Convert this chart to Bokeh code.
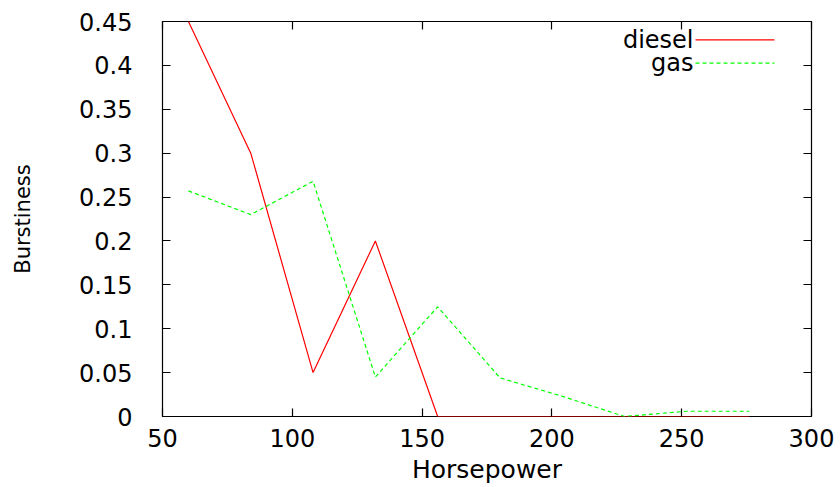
from bokeh.plotting import figure
from bokeh.models import (Range1d, LinearAxis, FixedTicker, Label, Arrow, Title,
                          CustomLabelingPolicy)
from bokeh.embed import file_html
from bokeh.resources import INLINE

# Data
horsepower = [60, 84, 108, 132, 156, 180, 204, 228, 252, 276]
diesel = [0.45, 0.30, 0.05, 0.20, 0.0, 0.0, 0.0, 0.0, 0.0, 0.0]
gas = [0.257, 0.23, 0.268, 0.045, 0.125, 0.044, 0.023, 0.0, 0.006, 0.006]
series_names = ["diesel", "gas"]

x_ticks = [50, 100, 150, 200, 250, 300]
x_tick_labels = ["50", "100", "150", "200", "250", "300"]
y_ticks = [0, 0.05, 0.1, 0.15, 0.2, 0.25, 0.3, 0.35, 0.4, 0.45]
y_tick_labels = ["0", "0.05", "0.1", "0.15", "0.2", "0.25", "0.3", "0.35", "0.4", "0.45"]

FONT = "DejaVu Sans"
RED = "#ff0000"
GREEN = "#00ff00"
DASH = "4 3"

p = figure(width=840, height=487, x_range=Range1d(50, 300), y_range=Range1d(0, 0.45),
           output_backend="svg", toolbar_location=None,
           min_border_left=162, min_border_right=29, min_border_top=21, min_border_bottom=71,
           y_axis_label="Burstiness")
p.grid.visible = False
p.outline_line_color = "black"
p.outline_line_width = 1.2
p.background_fill_color = "white"
p.border_fill_color = "white"

p.line(horsepower, diesel, line_color=RED, line_width=1.2)
p.line(horsepower, gas, line_color=GREEN, line_width=1.2, line_dash=DASH)

no_labels = CustomLabelingPolicy(code="""
for (let i = 0; i < indices.size; i++) { indices.unset(i) }
return indices
""")

def style_axis(ax, ticks, labels, show_labels=True):
    ax.ticker = FixedTicker(ticks=ticks)
    ax.major_label_overrides = {t: l for t, l in zip(ticks, labels)}
    ax.major_tick_in = 8
    ax.major_tick_out = 0
    ax.minor_tick_in = 0
    ax.minor_tick_out = 0
    ax.axis_line_color = None
    ax.major_tick_line_color = "black"
    ax.major_tick_line_width = 1.2
    ax.major_label_text_font = FONT
    ax.major_label_text_color = "black"
    if show_labels:
        ax.major_label_text_font_size = "24px"
    else:
        ax.major_label_text_font_size = "1px"
        ax.major_label_policy = no_labels
        ax.major_label_standoff = 0

xa = p.xaxis[0]
ya = p.yaxis[0]
style_axis(xa, x_ticks, x_tick_labels)
style_axis(ya, y_ticks, y_tick_labels)
xa.major_label_standoff = 12
xa.major_label_text_line_height = 0.75
ya.major_label_standoff = 30
ya.axis_label_text_font = FONT
ya.axis_label_text_font_style = "normal"
ya.axis_label_text_font_size = "21px"
ya.axis_label_text_color = "black"
ya.axis_label_standoff = 41

top_ax = LinearAxis()
right_ax = LinearAxis()
style_axis(top_ax, x_ticks, x_tick_labels, show_labels=False)
style_axis(right_ax, y_ticks, y_tick_labels, show_labels=False)
p.add_layout(top_ax, "above")
p.add_layout(right_ax, "right")

# x-axis title, set below the tick labels
p.add_layout(Title(text="Horsepower", align="center", vertical_align="bottom", standoff=7,
                   text_font=FONT, text_font_size="25px", text_font_style="normal",
                   text_color="black"), "below")

# gnuplot-style key: text on the left, line sample on the right
key_rows_y = [376.7, 353.3]
key_colors = [RED, GREEN]
key_dashes = ["solid", DASH]
for name, ky, col, dash in zip(series_names, key_rows_y, key_colors, key_dashes):
    p.add_layout(Label(x=531, y=ky, x_units="screen", y_units="screen", text=name,
                       text_align="right", text_baseline="middle", text_font=FONT,
                       text_font_size="24px", text_color="black"))
    p.add_layout(Arrow(end=None, x_start=533, y_start=ky, x_end=612, y_end=ky,
                       start_units="screen", end_units="screen",
                       line_color=col, line_width=1.2, line_dash=dash))

open("out.html", "w").write(file_html(p, INLINE))
